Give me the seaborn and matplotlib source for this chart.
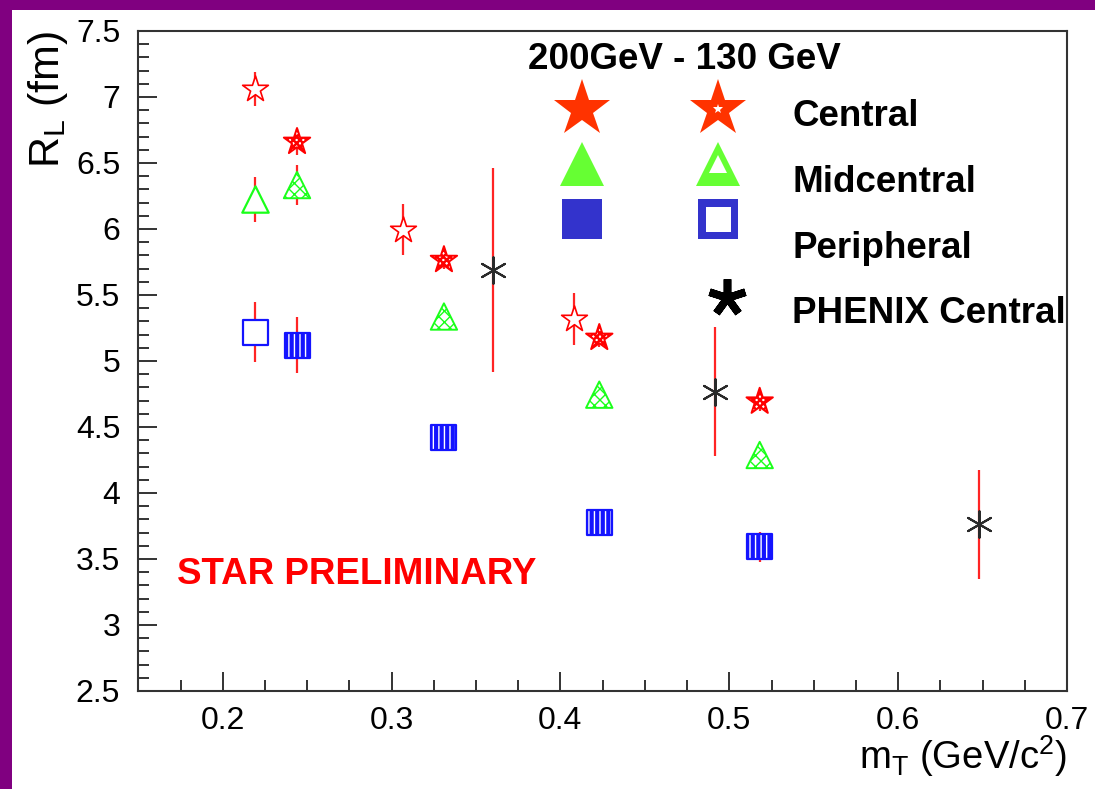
import numpy as np
import pandas as pd
import matplotlib
matplotlib.use("Agg")
import matplotlib.pyplot as plt
import seaborn as sns
from matplotlib.lines import Line2D
from matplotlib.markers import MarkerStyle
from matplotlib.transforms import Affine2D
from matplotlib.patches import Rectangle
from matplotlib.ticker import MultipleLocator
from matplotlib.font_manager import FontProperties

# ---------------- data ----------------
mt_200 = [0.244, 0.331, 0.423, 0.518]
rl_200_central = [6.66, 5.765, 5.175, 4.692]
err_200_central = [0.10, 0.07, 0.07, 0.07]
rl_200_mid = [6.333, 5.337, 4.745, 4.288]
err_200_mid = [0.15, 0.06, 0.06, 0.06]
rl_200_per = [5.12, 4.424, 3.773, 3.591]
err_200_per = [0.21, 0.07, 0.07, 0.114]

mt_130_central = [0.219, 0.307, 0.408]
rl_130_central = [7.06, 5.996, 5.318]
err_130_central = [0.13, 0.19, 0.20]
mt_130_other = [0.219]
rl_130_mid = [6.224]
err_130_mid = [0.17]
rl_130_per = [5.222]
err_130_per = [0.227]

mt_phenix = [0.360, 0.4915, 0.648]
rl_phenix = [5.689, 4.767, 3.763]
err_phenix = [0.77, 0.49, 0.414]

x_ticks = [0.2, 0.3, 0.4, 0.5, 0.6, 0.7]
x_tick_labels = ["0.2", "0.3", "0.4", "0.5", "0.6", "0.7"]
y_ticks = [2.5, 3.0, 3.5, 4.0, 4.5, 5.0, 5.5, 6.0, 6.5, 7.0, 7.5]
y_tick_labels = ["2.5", "3", "3.5", "4", "4.5", "5", "5.5", "6", "6.5", "7", "7.5"]

legend_labels = ["Central", "Midcentral", "Peripheral", "PHENIX Central"]
legend_title = "200GeV - 130 GeV"
watermark = "STAR PRELIMINARY"
x_label = r"m$_\mathregular{T}$ (GeV/c$^\mathregular{2}$)"
y_label = r"R$_\mathregular{L}$ (fm)"

# ---------------- style ----------------
sns.set_style("ticks")
plt.rcParams["font.family"] = ["Liberation Sans", "DejaVu Sans"]
plt.rcParams["mathtext.fontset"] = "custom"
plt.rcParams["mathtext.rm"] = "Liberation Sans"
plt.rcParams["text.color"] = "black"
plt.rcParams["axes.labelcolor"] = "black"
plt.rcParams["legend.labelcolor"] = "black"

W, H = 1095, 789
fig = plt.figure(figsize=(W / 100, H / 100), dpi=100)
fig.patch.set_facecolor("white")
ax = fig.add_axes([138.3 / W, 98 / H, 928.7 / W, 660 / H])
ax.set_facecolor("white")

purple = "#800080"
fig.add_artist(Rectangle((0, 0), 12 / W, 1, transform=fig.transFigure,
                         facecolor=purple, edgecolor="none", zorder=-5))
fig.add_artist(Rectangle((0, 1 - 10 / H), 1, 10 / H, transform=fig.transFigure,
                         facecolor=purple, edgecolor="none", zorder=-5))

RED, GREEN, BLUE, DARK = "#ff0000", "#1aff1a", "#1414ff", "#2a2a2a"
ERR = "#ff2424"


def errbars(x, y, e):
    ax.errorbar(x, y, yerr=e, fmt="none", ecolor=ERR, elinewidth=1.6,
                capsize=0, zorder=2)


def markers(x, y, marker, ms, face, edge, lw, hatch=None, hatch_lw=1.0):
    with plt.rc_context({"hatch.color": edge, "hatch.linewidth": hatch_lw}):
        sns.scatterplot(x=x, y=y, marker=marker, s=ms ** 2, facecolor=face,
                        edgecolor=edge, linewidth=lw, zorder=3, ax=ax,
                        legend=False)
        coll = ax.collections[-1]
        if hatch:
            coll.set_hatch(hatch)
        if hasattr(coll, "set_hatch_linewidth"):
            coll.set_hatch_linewidth(hatch_lw)


# error bars
errbars(mt_200, rl_200_central, err_200_central)
errbars(mt_200, rl_200_mid, err_200_mid)
errbars(mt_200, rl_200_per, err_200_per)
errbars(mt_130_central, rl_130_central, err_130_central)
errbars(mt_130_other, rl_130_mid, err_130_mid)
errbars(mt_130_other, rl_130_per, err_130_per)
errbars(mt_phenix, rl_phenix, err_phenix)

# 200 GeV (hatched)
markers(mt_200, rl_200_central, "*", 20, "white", RED, 1.4, "xxxxx", 1.8)
markers(mt_200, rl_200_mid, "^", 19, "white", GREEN, 1.4, "xxx", 1.0)
markers(mt_200, rl_200_per, "s", 18, "white", BLUE, 1.6, "|||", 3.0)
# 130 GeV (open)
markers(mt_130_central, rl_130_central, "*", 19.5, "white", RED, 1.2)
markers(mt_130_other, rl_130_mid, "^", 19, "white", GREEN, 1.6)
markers(mt_130_other, rl_130_per, "s", 18, "white", BLUE, 1.6)
# PHENIX
sns.scatterplot(x=mt_phenix, y=rl_phenix, marker=(6, 2, 0), s=19 ** 2,
                color=DARK, linewidth=1.5, zorder=4, ax=ax, legend=False)

# ---------------- axes ----------------
ax.set_xlim(0.15, 0.7)
ax.set_ylim(2.5, 7.5)
ax.set_xticks(x_ticks)
ax.set_xticklabels(x_tick_labels)
ax.set_yticks(y_ticks)
ax.set_yticklabels(y_tick_labels)
ax.xaxis.set_minor_locator(MultipleLocator(0.025))
ax.yaxis.set_minor_locator(MultipleLocator(0.1))
ax.tick_params(which="both", direction="in", top=False, right=False,
               color="#333333", labelcolor="black")
ax.tick_params(which="major", length=13.7, width=1.4)
ax.tick_params(which="minor", length=8, width=1.4)
ax.tick_params(axis="y", which="major", pad=13, labelsize=23)
ax.tick_params(axis="x", which="major", pad=11, labelsize=23)
for sp in ax.spines.values():
    sp.set_linewidth(1.5)
    sp.set_color("#333333")
    sp.set_visible(True)

ax.set_xlabel(x_label, loc="right", fontsize=27.5, labelpad=-2)
ax.set_ylabel(y_label, loc="top", fontsize=31, labelpad=4)

# ---------------- texts ----------------
bold = dict(fontsize=26.5, fontweight="bold")
ax.text(0.4194, 0.9424, legend_title, transform=ax.transAxes, ha="left",
        va="baseline", color="black", **bold)
ax.text(0.0417, 0.162, watermark, transform=ax.transAxes, ha="left",
        va="baseline", color="#ff0000", **bold)

# ---------------- legend ----------------
L_RED, L_GREEN, L_BLUE = "#ff3300", "#66ff33", "#3333cc"
fp = FontProperties(family=["Liberation Sans"], weight="bold", size=26.5)

h_fs = Line2D([], [], ls="none", marker="*", ms=43, mfc=L_RED, mec=L_RED, mew=0)
h_ft = Line2D([], [], ls="none", marker="^", ms=32, mfc=L_GREEN, mec=L_GREEN, mew=0)
h_fq = Line2D([], [], ls="none", marker="s", ms=29, mfc=L_BLUE, mec=L_BLUE, mew=0)
h_os = (Line2D([], [], ls="none", marker="*", ms=43, mfc=L_RED, mec=L_RED, mew=0),
        Line2D([], [], ls="none", marker="*", ms=7, mfc="white", mec="white", mew=0))
h_ot = (Line2D([], [], ls="none", marker="^", ms=32, mfc=L_GREEN, mec=L_GREEN, mew=0),
        Line2D([], [], ls="none", marker="^", ms=13, mfc="white", mec="white", mew=0))
h_oq = (Line2D([], [], ls="none", marker="s", ms=29, mfc=L_BLUE, mec=L_BLUE, mew=0),
        Line2D([], [], ls="none", marker="s", ms=18, mfc="white", mec="white", mew=0))

leg1 = ax.legend(handles=[h_fs, h_ft, h_fq, h_os, h_ot, h_oq], labels=[""] * 6,
                 ncol=2, loc="upper left", bbox_to_anchor=(0.4479, 0.9026),
                 frameon=False, prop=fp, handlelength=1.5, handletextpad=0,
                 columnspacing=2.2, labelspacing=0.54, borderpad=0,
                 borderaxespad=0)
ax.add_artist(leg1)

ast = MarkerStyle((5, 2, 0), transform=Affine2D().translate(0, 0.36))
blank = Line2D([], [], ls="none")
h_ph = Line2D([], [], ls="none", marker=ast, ms=27, mec="black", mfc="black", mew=5.5)
leg2 = ax.legend(handles=[blank, blank, blank, h_ph], labels=legend_labels,
                 loc="upper left", bbox_to_anchor=(0.6042, 0.8974),
                 frameon=False, prop=fp, handlelength=1.5, handletextpad=1.017,
                 labelspacing=0.84, borderpad=0, borderaxespad=0,
                 labelcolor="black")

fig.savefig("out.png", dpi=100, facecolor=fig.get_facecolor())
